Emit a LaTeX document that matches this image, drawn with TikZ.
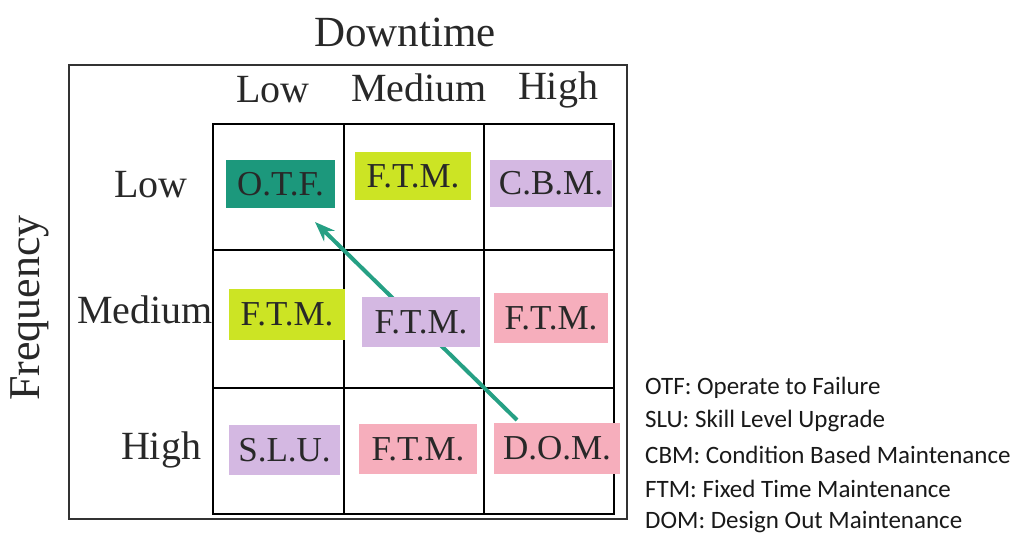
\documentclass[tikz,border=0pt]{standalone}
\usepackage{fontspec}
\setmainfont{Liberation Serif}
\newfontfamily\legendfont{Carlito}
\usetikzlibrary{arrows.meta}
\definecolor{otfteal}{RGB}{28,152,124}
\definecolor{arrowteal}{RGB}{38,160,132}
\definecolor{ftmgreen}{RGB}{204,228,36}
\definecolor{lavender}{RGB}{212,184,226}
\definecolor{rosepink}{RGB}{246,174,188}
\definecolor{inktext}{RGB}{40,40,40}
\tikzset{
  cellbox/.style={inner sep=0pt, text=inktext, font=\fontsize{35}{38}\selectfont},
  axislabel/.style={inner sep=0pt, text=inktext, font=\fontsize{40}{44}\selectfont},
  legendline/.style={anchor=west, inner sep=0pt, text=black!90, font=\legendfont\fontsize{25}{28}\selectfont},
  gridline/.style={line width=2.6pt, black},
  frameline/.style={line width=1.3pt, black!80},
}
\begin{document}
\begin{tikzpicture}[x=1pt, y=-1pt]
\useasboundingbox (0,0) rectangle (1016,534);
% outer frame
\draw[frameline] (69,65) rectangle (627,519);
% 3x3 grid
\draw[gridline] (213,124) rectangle (614,514);
\draw[gridline] (344,124) -- (344,514);
\draw[gridline] (484,124) -- (484,514);
\draw[gridline] (213,250) -- (614,250);
\draw[gridline] (213,388) -- (614,388);
% axis titles
\node[axislabel, font=\fontsize{43}{46}\selectfont] (downtime) at (405,32) {Downtime};
\node[axislabel, font=\fontsize{44}{48}\selectfont, rotate=90] (frequency) at (30,308) {Frequency};
% column headers
\node[axislabel] (cLow) at (273,90) {Low};
\node[axislabel] (cMed) at (419,88) {Medium};
\node[axislabel] (cHigh) at (558,90) {High};
% row headers
\node[axislabel] (rLow) at (151,185) {Low};
\node[axislabel] (rMed) at (145,310) {Medium};
\node[axislabel] (rHigh) at (161,450) {High};
% improvement arrow (runs behind the boxes)
\coordinate (arrowStart) at (517,420);
\coordinate (arrowEnd) at (315,222);
\draw[arrowteal, line width=4pt, -{Stealth[length=20pt,width=15pt]}] (arrowStart) -- (arrowEnd);
% strategy boxes
\node[cellbox, fill=otfteal, minimum width=109pt, minimum height=48pt] (otf) at (280.5,184) {O.T.F.};
\node[cellbox, fill=ftmgreen, minimum width=116pt, minimum height=48pt] (ftmA) at (413,176) {F.T.M.};
\node[cellbox, fill=lavender, minimum width=122pt, minimum height=47pt] (cbm) at (551,183.5) {C.B.M.};
\node[cellbox, fill=ftmgreen, minimum width=116pt, minimum height=51pt] (ftmB) at (287,314.5) {F.T.M.};
\node[cellbox, fill=lavender, minimum width=118pt, minimum height=50pt] (ftmC) at (421,322) {F.T.M.};
\node[cellbox, fill=rosepink, minimum width=114pt, minimum height=50pt] (ftmD) at (551,318) {F.T.M.};
\node[cellbox, fill=lavender, minimum width=111pt, minimum height=50pt] (slu) at (284.5,450) {S.L.U.};
\node[cellbox, fill=rosepink, minimum width=118pt, minimum height=50pt] (ftmE) at (418,449) {F.T.M.};
\node[cellbox, fill=rosepink, minimum width=126pt, minimum height=51pt] (dom) at (557,448.5) {D.O.M.};
% legend
\node[legendline] (lg1) at (645,388) {OTF: Operate to Failure};
\node[legendline] (lg2) at (645,421) {SLU: Skill Level Upgrade};
\node[legendline] (lg3) at (645,455) {CBM: Condition Based Maintenance};
\node[legendline] (lg4) at (645,489) {FTM: Fixed Time Maintenance};
\node[legendline] (lg5) at (645,522) {DOM: Design Out Maintenance};
\end{tikzpicture}
\end{document}
